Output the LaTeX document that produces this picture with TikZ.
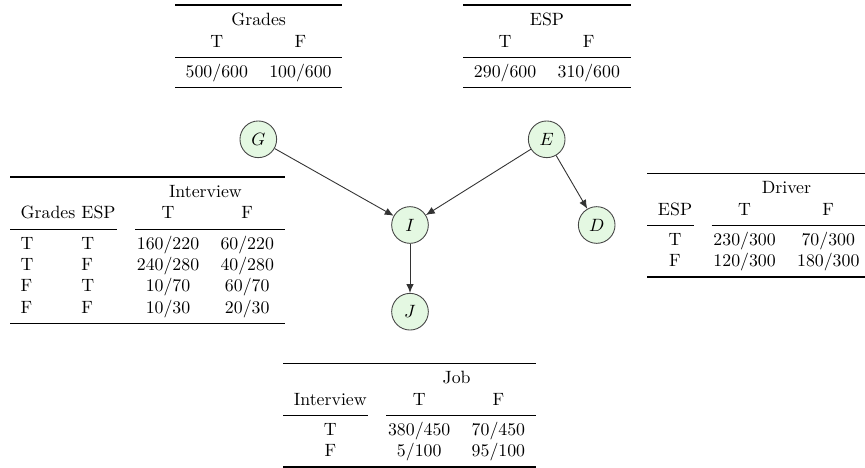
\documentclass[tikz,border=0pt]{standalone}
\usepackage{booktabs}
\usetikzlibrary{arrows.meta}
\setlength{\aboverulesep}{1.8pt}
\setlength{\belowrulesep}{2.8pt}
\definecolor{nodefill}{RGB}{228,248,226}
\definecolor{nodeline}{RGB}{70,70,70}
\begin{document}
\begin{tikzpicture}[x=0.5618pt,y=-0.5618pt,
  var/.style={circle,draw=nodeline,fill=nodefill,line width=0.5pt,minimum size=20.6pt,inner sep=0pt},
  cpt/.style={anchor=north west,inner sep=0pt,outer sep=0pt},
  edge/.style={draw=black!80,line width=0.5pt,-{Latex[length=5pt,width=4.2pt]}}]
\useasboundingbox (0,0) rectangle (865,467);

% variable nodes
\node[var] (G) at (258.3,139.3) {$G$};
\node[var] (E) at (546.7,139.3) {$E$};
\node[var] (I) at (410,225) {$I$};
\node[var] (D) at (596.7,225) {$D$};
\node[var] (J) at (410,311.7) {$J$};

\draw[edge] (G) -- (I);
\draw[edge] (E) -- (I);
\draw[edge] (E) -- (D);
\draw[edge] (I) -- (J);

% tables
\node[cpt] (tG) at (175,4.3) {%
\begin{tabular}{cc}
\toprule
\multicolumn{2}{c}{Grades}\\
T & F\\
\midrule
500/600 & 100/600\\
\bottomrule
\end{tabular}};

\node[cpt] (tE) at (463.3,4.3) {%
\begin{tabular}{cc}
\toprule
\multicolumn{2}{c}{ESP}\\
T & F\\
\midrule
290/600 & 310/600\\
\bottomrule
\end{tabular}};

\node[cpt] (tI) at (10,176.2) {%
\begin{tabular}{l@{\hspace{3.4pt}}lcc}
\toprule
 & & \multicolumn{2}{c}{Interview}\\
Grades & ESP & T & F\\
\cmidrule(r){1-2}\cmidrule(l){3-4}
T & T & 160/220 & 60/220\\
T & F & 240/280 & 40/280\\
F & T & 10/70 & 60/70\\
F & F & 10/30 & 20/30\\
\bottomrule
\end{tabular}};

\node[cpt] (tD) at (647.3,172.6) {%
\begin{tabular}{ccc}
\toprule
 & \multicolumn{2}{c}{Driver}\\
ESP & T & F\\
\cmidrule(r){1-1}\cmidrule(l){2-3}
T & 230/300 & 70/300\\
F & 120/300 & 180/300\\
\bottomrule
\end{tabular}};

\node[cpt] (tJ) at (283.3,362.6) {%
\begin{tabular}{ccc}
\toprule
 & \multicolumn{2}{c}{Job}\\
Interview & T & F\\
\cmidrule(r){1-1}\cmidrule(l){2-3}
T & 380/450 & 70/450\\
F & 5/100 & 95/100\\
\bottomrule
\end{tabular}};
\end{tikzpicture}
\end{document}
